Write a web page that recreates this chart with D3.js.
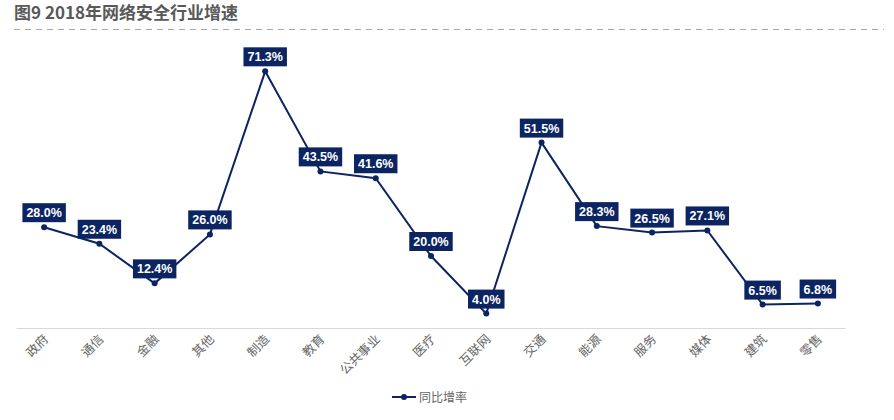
<!DOCTYPE html>
<html>
<head>
<meta charset="utf-8">
<script src="https://cdn.jsdelivr.net/npm/d3@7"></script>
<style>
  body { margin: 0; background: #fff; }
  svg { display: block; font-family: "Liberation Sans", Arial, "Noto Sans CJK SC", sans-serif; }
</style>
</head>
<body>
<div id="chart"></div>
<script>
const categories = ["政府", "通信", "金融", "其他", "制造", "教育", "公共事业", "医疗", "互联网", "交通", "能源", "服务", "媒体", "建筑", "零售"];
const growth = [28.0, 23.4, 12.4, 26.0, 71.3, 43.5, 41.6, 20.0, 4.0, 51.5, 28.3, 26.5, 27.1, 6.5, 6.8];
const seriesName = "同比增率";
const title = "图9 2018年网络安全行业增速";

const W = 894, H = 420;
const navy = "#0c2461";

const svg = d3.select("#chart").append("svg")
  .attr("width", W).attr("height", H);

// title + dashed rule
svg.append("text")
  .attr("x", 14).attr("y", 19)
  .attr("font-size", "17px")
  .attr("font-weight", "bold")
  .attr("fill", "#595959")
  .attr("font-family", "\"Noto Sans CJK SC\", sans-serif")
  .text(title);

svg.append("line")
  .attr("x1", 14).attr("x2", 884)
  .attr("y1", 29.5).attr("y2", 29.5)
  .attr("stroke", "#a6a6a6")
  .attr("stroke-width", 1.2)
  .attr("stroke-dasharray", "6,5");

const x = d3.scaleBand().domain(categories).range([16.5, 845.5]);
const y = d3.scaleLinear().domain([0, 80]).range([328, 40]);
const cx = d => x(d) + x.bandwidth() / 2;

// x axis
svg.append("line")
  .attr("x1", 16.5).attr("x2", 845.5)
  .attr("y1", y(0) + 0.5).attr("y2", y(0) + 0.5)
  .attr("stroke", "#d9d9d9");

svg.append("g")
  .selectAll("text")
  .data(categories)
  .join("text")
  .attr("transform", d => `translate(${cx(d) + 5},${y(0) + 12}) rotate(-45)`)
  .attr("text-anchor", "end")
  .attr("font-size", "12.5px")
  .attr("fill", "#666")
  .attr("font-family", "\"Noto Sans CJK SC\", sans-serif")
  .text(d => d);

const data = categories.map((c, i) => ({ c, v: growth[i] }));

svg.append("path")
  .datum(data)
  .attr("fill", "none")
  .attr("stroke", navy)
  .attr("stroke-width", 2)
  .attr("d", d3.line().x(d => cx(d.c)).y(d => y(d.v)));

svg.append("g")
  .selectAll("circle")
  .data(data)
  .join("circle")
  .attr("cx", d => cx(d.c))
  .attr("cy", d => y(d.v))
  .attr("r", 3)
  .attr("fill", navy);

// data labels
const lbl = svg.append("g")
  .selectAll("g")
  .data(data)
  .join("g")
  .attr("transform", d => `translate(${cx(d.c)},${y(d.v) - 5})`);

lbl.append("text")
  .attr("text-anchor", "middle")
  .attr("y", -5)
  .attr("font-size", "12.5px")
  .attr("font-weight", "bold")
  .attr("fill", "#fff")
  .text(d => d.v.toFixed(1) + "%")
  .each(function() {
    const b = this.getBBox();
    d3.select(this.parentNode).insert("rect", "text")
      .attr("x", b.x - 4).attr("y", -19)
      .attr("width", b.width + 8).attr("height", 19)
      .attr("fill", navy);
  });

// legend
const lg = svg.append("g").attr("transform", "translate(392,397)");
lg.append("line").attr("x1", 0).attr("x2", 24).attr("stroke", navy).attr("stroke-width", 2);
lg.append("circle").attr("cx", 12).attr("r", 3).attr("fill", navy);
lg.append("text")
  .attr("x", 27).attr("y", 4.5)
  .attr("font-size", "12px")
  .attr("fill", "#666")
  .attr("font-family", "\"Noto Sans CJK SC\", sans-serif")
  .text(seriesName);
</script>
</body>
</html>
